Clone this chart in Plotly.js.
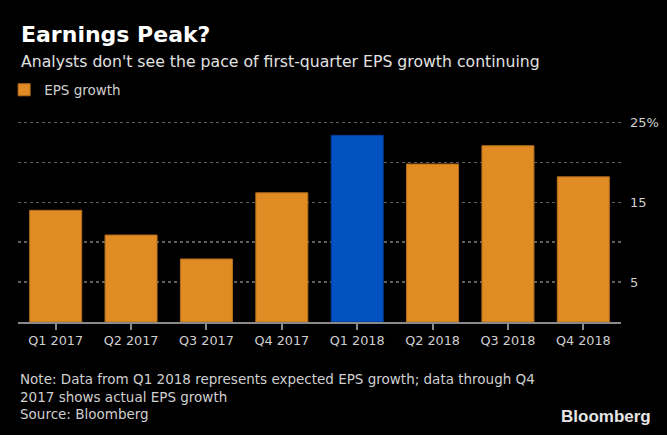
<!DOCTYPE html>
<html>
<head>
<meta charset="utf-8">
<script src="https://cdn.plot.ly/plotly-3.0.1.min.js"></script>
<style>
  html, body { margin: 0; padding: 0; background: #ffffff; }
  #chart { width: 667px; height: 435px; }
</style>
</head>
<body>
<div id="chart"></div>
<script>
const quarters = ["Q1 2017", "Q2 2017", "Q3 2017", "Q4 2017",
                  "Q1 2018", "Q2 2018", "Q3 2018", "Q4 2018"];
const epsGrowth = [14.0, 10.9, 7.9, 16.2, 23.4, 19.8, 22.1, 18.2];
const highlightQuarter = "Q1 2018";

const yTickVals = [0, 5, 10, 15, 20, 25];
const yTickText = ["", "5", "", "15", "", "25%"];

const orange = "#e08b24";
const blue = "#0451c1";
const barColors = quarters.map(q => q === highlightQuarter ? blue : orange);
const lineColors = quarters.map(q => q === highlightQuarter ? "#033f98" : "#b46f1c");

const fontFamily = "'DejaVu Sans', sans-serif";

// plot area spans y 121..322 px, so paper y = (322 - px) / 201
const py = px => (322 - px) / 201;

const traceEps = {
    x: quarters,
    y: epsGrowth,
    type: "bar",
    name: "EPS growth",
    marker: {
        color: barColors,
        line: { color: lineColors, width: 1 }
    },
    hoverinfo: "x+y"
};

const layout = {
    width: 667,
    height: 435,
    margin: { l: 18, r: 46, t: 121, b: 113, autoexpand: false },
    paper_bgcolor: "#000000",
    plot_bgcolor: "#000000",
    font: { family: fontFamily, color: "#cfcfcf", size: 13 },
    bargap: 0.31,
    showlegend: true,
    legend: {
        orientation: "h",
        x: -0.023,
        xanchor: "left",
        y: py(90),
        yanchor: "middle",
        bgcolor: "rgba(0,0,0,0)",
        font: { family: fontFamily, size: 13.5, color: "#cfcfcf" }
    },
    xaxis: {
        type: "category",
        showgrid: false,
        showline: true,
        linecolor: "#8a8a8a",
        linewidth: 2,
        ticks: "outside",
        ticklen: 6,
        tickwidth: 2,
        tickcolor: "#8a8a8a",
        tickfont: { family: fontFamily, size: 12.8, color: "#cfcfcf" },
        automargin: false,
        fixedrange: true
    },
    yaxis: {
        side: "right",
        range: [0, 25.2],
        tickvals: yTickVals,
        ticktext: yTickText,
        showgrid: true,
        gridcolor: "#5e5e5e",
        gridwidth: 1.5,
        griddash: "dot",
        zeroline: false,
        ticks: "",
        ticklabelstandoff: 8,
        tickfont: { family: fontFamily, size: 13, color: "#cfcfcf" },
        automargin: false,
        fixedrange: true
    },
    annotations: [
        {
            text: "<b>Earnings Peak?</b>",
            xref: "paper", yref: "paper",
            x: 0.002, y: py(34),
            xanchor: "left", yanchor: "middle",
            showarrow: false,
            font: { family: fontFamily, size: 22, color: "#ffffff" }
        },
        {
            text: "Analysts don't see the pace of first-quarter EPS growth continuing",
            xref: "paper", yref: "paper",
            x: 0.002, y: py(61),
            xanchor: "left", yanchor: "middle",
            showarrow: false,
            font: { family: fontFamily, size: 15.7, color: "#e2e2e2" }
        },
        {
            text: "Note: Data from Q1 2018 represents expected EPS growth; data through Q4<br>" +
                  "2017 shows actual EPS growth<br>" +
                  "Source: Bloomberg",
            xref: "paper", yref: "paper",
            x: 0.0, y: py(396),
            xanchor: "left", yanchor: "middle",
            align: "left",
            showarrow: false,
            font: { family: fontFamily, size: 13.5, color: "#cfcfcf" }
        },
        {
            text: "<b>Bloomberg</b>",
            xref: "paper", yref: "paper",
            x: (653 - 18) / 603, y: py(416),
            xanchor: "right", yanchor: "middle",
            showarrow: false,
            font: { family: "'Liberation Sans', Arial, sans-serif", size: 17, color: "#e6e6e6" }
        }
    ]
};

Plotly.newPlot("chart", [traceEps], layout, { displayModeBar: false, staticPlot: true });
</script>
</body>
</html>
